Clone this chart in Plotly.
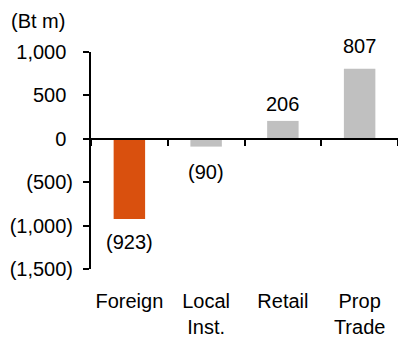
import plotly.graph_objects as go

categories = ["Foreign", "Local<br>Inst.", "Retail", "Prop<br>Trade"]
values = [-923, -90, 206, 807]
value_labels = ["(923)", "(90)", "206", "807"]
bar_colors = ["#D9500E", "#C0C0C0", "#C0C0C0", "#C0C0C0"]
y_tickvals = [1000, 500, 0, -500, -1000, -1500]
y_ticklabels = ["1,000", "500", "0", "(500)", "(1,000)", "(1,500)"]
label_shift = [-23, -25, 17, 23]  # px offset of value label centers from bar ends

FONT = "Arial, Liberation Sans, sans-serif"
HID = "<span style='color:rgba(0,0,0,0)'>)</span>"
ticktext = [t if t.startswith("(") else t + HID for t in y_ticklabels]

fig = go.Figure()
fig.add_trace(go.Bar(
    x=categories, y=values, marker=dict(color=bar_colors, line=dict(width=0)),
    width=0.41, hoverinfo="skip",
))

for c, v, t, s in zip(categories, values, value_labels, label_shift):
    fig.add_annotation(x=c, y=v, text=t, showarrow=False, yanchor="middle",
                       yshift=s, font=dict(family=FONT, size=20, color="#000"))

fig.add_annotation(xref="paper", yref="paper", x=-91/307, y=1.0, xanchor="left",
                   yanchor="bottom", yshift=18, xshift=9, text="(Bt m)", showarrow=False,
                   font=dict(family=FONT, size=20, color="#000"))

fig.update_layout(
    width=398, height=341,
    margin=dict(l=91, r=0, t=52, b=72),
    paper_bgcolor="white", plot_bgcolor="white",
    showlegend=False,
    font=dict(family=FONT, size=20, color="#000"),
    xaxis=dict(
        type="category", range=[-0.5, 3.5],
        anchor="free", position=0.6, automargin=False,
        showline=True, linewidth=2, linecolor="#000",
        ticks="outside", ticklen=6, tickwidth=2, tickcolor="#000",
        tickson="boundaries", showgrid=False, zeroline=False,
        tickangle=0, ticklabelstandoff=144,
        tickfont=dict(family=FONT, size=20, color="#000"),
    ),
    yaxis=dict(
        range=[-1500, 1000], tickmode="array", tickvals=y_tickvals, ticktext=ticktext,
        automargin=False,
        showline=True, linewidth=2, linecolor="#000",
        ticks="outside", ticklen=6, tickwidth=2, tickcolor="#000",
        showgrid=False, zeroline=False, ticklabelstandoff=6,
        tickfont=dict(family=FONT, size=20, color="#000"),
    ),
)

fig.write_html("out.html")
